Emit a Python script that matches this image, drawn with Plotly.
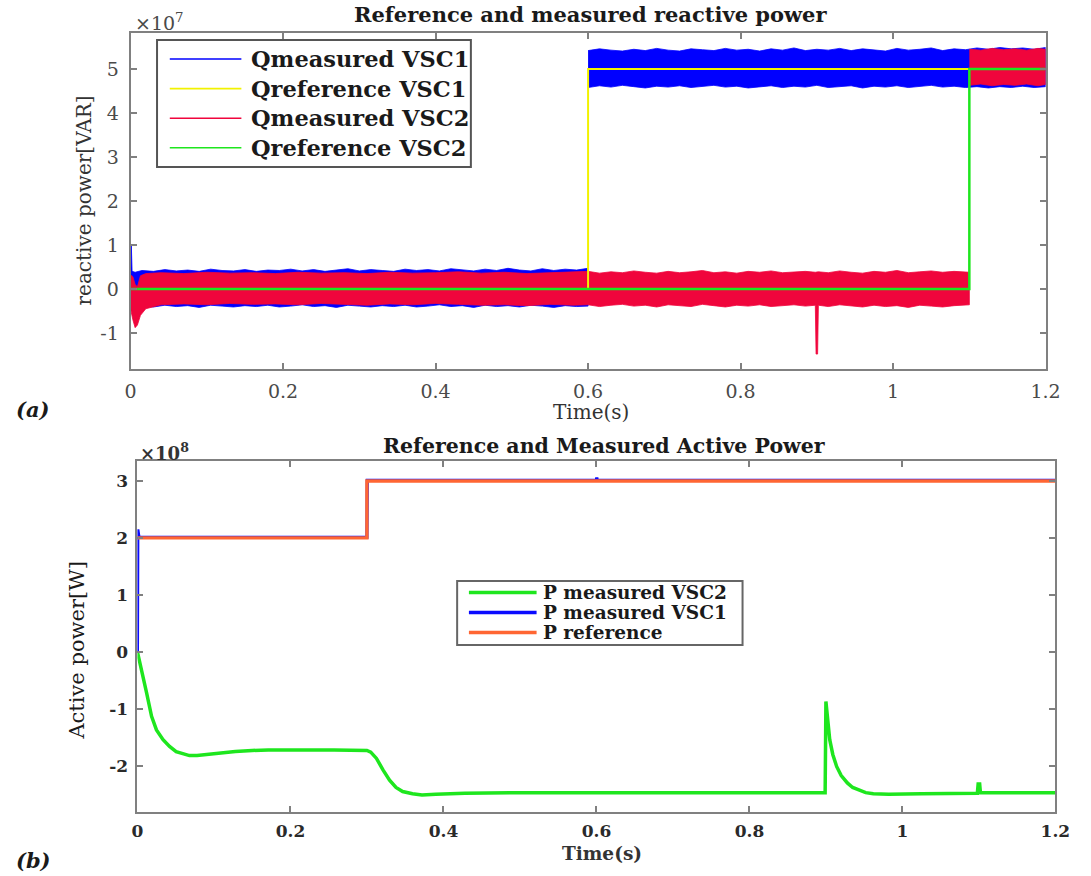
import plotly.graph_objects as go

W, H = 1091, 876


def fx(p):
    return p / W


def fy(p):
    return 1 - p / H


SERIF = "DejaVu Serif"
AXIS_GRAY = "#808080"

# ---------------- Reactive power (values in 1e7 VAR) ----------------
# Qmeasured VSC1: envelope of the oscillating measurement, 0 - 0.6 s
q1a_t = [0.000, 0.001, 0.002, 0.006, 0.015, 0.03, 0.045, 0.06, 0.075, 0.09, 0.105, 0.12, 0.135,
         0.15, 0.165, 0.18, 0.195, 0.21, 0.225, 0.24, 0.255, 0.27, 0.285, 0.30, 0.315, 0.33,
         0.345, 0.36, 0.375, 0.39, 0.405, 0.42, 0.435, 0.45, 0.465, 0.48, 0.495, 0.51, 0.525,
         0.54, 0.555, 0.57, 0.585, 0.60]
q1a_hi = [0.30, 1.00, 0.40, 0.38, 0.42, 0.40, 0.44, 0.41, 0.43, 0.40, 0.45, 0.42, 0.41,
          0.44, 0.40, 0.43, 0.42, 0.45, 0.41, 0.44, 0.40, 0.43, 0.46, 0.41, 0.44, 0.42,
          0.40, 0.45, 0.42, 0.44, 0.41, 0.46, 0.43, 0.41, 0.45, 0.42, 0.47, 0.43, 0.41,
          0.46, 0.42, 0.45, 0.43, 0.47]
q1a_lo = [-0.48, -0.45, -0.40, -0.40, -0.39, -0.41, -0.37, -0.40, -0.38, -0.42, -0.37, -0.39, -0.41,
          -0.38, -0.40, -0.37, -0.41, -0.39, -0.36, -0.40, -0.38, -0.42, -0.37, -0.39, -0.41, -0.38,
          -0.40, -0.37, -0.41, -0.39, -0.36, -0.40, -0.38, -0.42, -0.37, -0.40, -0.38, -0.41, -0.37,
          -0.39, -0.42, -0.38, -0.40, -0.39]
# Qmeasured VSC1 after the 0.6 s step
q1b_t = [0.60, 0.615, 0.63, 0.645, 0.66, 0.675, 0.69, 0.705, 0.72, 0.735, 0.75, 0.765, 0.78,
         0.795, 0.81, 0.825, 0.84, 0.855, 0.87, 0.885, 0.90, 0.915, 0.93, 0.945, 0.96, 0.975,
         0.99, 1.005, 1.02, 1.035, 1.05, 1.065, 1.08, 1.095, 1.11, 1.125, 1.14, 1.155, 1.17,
         1.185, 1.20]
q1b_hi = [5.42, 5.46, 5.43, 5.41, 5.45, 5.42, 5.47, 5.43, 5.41, 5.46, 5.44, 5.42, 5.47,
          5.43, 5.45, 5.41, 5.46, 5.43, 5.48, 5.42, 5.45, 5.43, 5.47, 5.42, 5.46, 5.44,
          5.41, 5.47, 5.43, 5.45, 5.48, 5.42, 5.46, 5.44, 5.48, 5.45, 5.49, 5.46, 5.48,
          5.45, 5.49]
q1b_lo = [4.58, 4.62, 4.59, 4.63, 4.60, 4.57, 4.61, 4.59, 4.62, 4.58, 4.60, 4.63, 4.59,
          4.61, 4.57, 4.60, 4.62, 4.58, 4.61, 4.59, 4.63, 4.58, 4.60, 4.62, 4.57, 4.61,
          4.59, 4.62, 4.58, 4.60, 4.63, 4.59, 4.61, 4.58, 4.60, 4.57, 4.60, 4.58, 4.61,
          4.58, 4.60]

# Qmeasured VSC2: envelope before the 1.1 s step (with the 0.9 s disturbance)
q2a_t = [0.000, 0.003, 0.006, 0.009, 0.013, 0.02,
         0.04, 0.07, 0.10, 0.13, 0.16, 0.19, 0.22, 0.25, 0.28, 0.31, 0.34, 0.37, 0.40, 0.43,
         0.46, 0.49, 0.52, 0.55, 0.58,
         0.60, 0.615, 0.63, 0.645, 0.66, 0.675, 0.69, 0.705, 0.72, 0.735, 0.75, 0.765, 0.78,
         0.795, 0.81, 0.825, 0.84, 0.855, 0.87, 0.885,
         0.898, 0.899, 0.901, 0.902,
         0.915, 0.93, 0.945, 0.96, 0.975, 0.99, 1.005, 1.02, 1.035, 1.05, 1.065, 1.08, 1.10]
q2a_hi = [0.32, 0.28, 0.10, 0.05, 0.30, 0.35,
          0.37, 0.35, 0.38, 0.36, 0.37, 0.35, 0.38, 0.36, 0.37, 0.35, 0.38, 0.36, 0.37, 0.39,
          0.36, 0.38, 0.35, 0.37, 0.38,
          0.40, 0.36, 0.39, 0.37, 0.41, 0.38, 0.36, 0.40, 0.37, 0.39, 0.42, 0.37, 0.39,
          0.36, 0.40, 0.38, 0.41, 0.37, 0.39, 0.40,
          0.38, 0.38, 0.38, 0.39,
          0.37, 0.41, 0.38, 0.36, 0.40, 0.38, 0.42, 0.37, 0.39, 0.41, 0.38, 0.40, 0.38]
q2a_lo = [-0.45, -0.70, -0.88, -0.82, -0.60, -0.45,
          -0.36, -0.34, -0.36, -0.33, -0.35, -0.34, -0.36, -0.33, -0.35, -0.37, -0.34, -0.36, -0.33, -0.35,
          -0.37, -0.36, -0.38, -0.35, -0.37,
          -0.36, -0.40, -0.37, -0.35, -0.39, -0.37, -0.41, -0.36, -0.38, -0.40, -0.35, -0.38, -0.41,
          -0.37, -0.39, -0.36, -0.40, -0.38, -0.36, -0.39,
          -0.37, -1.48, -1.48, -0.37,
          -0.40, -0.36, -0.39, -0.41, -0.37, -0.40, -0.38, -0.42, -0.37, -0.39, -0.41, -0.38, -0.36]
# Qmeasured VSC2 after the 1.1 s step
q2b_t = [1.10, 1.115, 1.13, 1.145, 1.16, 1.175, 1.19, 1.20]
q2b_hi = [5.45, 5.43, 5.47, 5.44, 5.46, 5.43, 5.47, 5.45]
q2b_lo = [4.63, 4.66, 4.62, 4.65, 4.63, 4.66, 4.62, 4.65]

# Reactive power references (step profiles)
qref1_t = [0.0, 0.6, 1.2]
qref1 = [0.0, 5.0, 5.0]
qref2_t = [0.0, 1.1, 1.2]
qref2 = [0.0, 5.0, 5.0]

q_ticks = [-1, 0, 1, 2, 3, 4, 5]
t_ticks = [0, 0.2, 0.4, 0.6, 0.8, 1.0, 1.2]
t_labels = ["0", "0.2", "0.4", "0.6", "0.8", "1", "1.2"]

# ---------------- Active power (values in 1e8 W) ----------------
pref_t = [0.0, 0.3, 1.2]
pref = [2.0, 3.0, 3.0]

p1_t = [0.0, 0.0005, 0.002, 0.3, 0.3005, 0.6, 0.6005, 0.601, 1.2]
p1 = [0.0, 2.15, 2.012, 2.012, 3.012, 3.012, 3.06, 3.012, 3.012]

p2_t = [0.0, 0.0056, 0.012, 0.0185, 0.0249, 0.0335, 0.042, 0.0506, 0.059, 0.068, 0.078,
        0.09, 0.107, 0.128, 0.15, 0.171, 0.257, 0.300, 0.305, 0.3125, 0.321, 0.3296, 0.338,
        0.3467, 0.3596, 0.372, 0.39, 0.428, 0.5, 0.6, 0.7, 0.8, 0.899,
        0.900, 0.902, 0.905, 0.909, 0.914, 0.920, 0.928, 0.935, 0.943, 0.952, 0.962, 0.982,
        1.025, 1.098, 1.099, 1.101, 1.102, 1.2]
p2 = [0.0, -0.31, -0.72, -1.13, -1.37, -1.54, -1.66, -1.75, -1.79, -1.82, -1.82,
      -1.80, -1.78, -1.75, -1.73, -1.72, -1.72, -1.73, -1.76, -1.87, -2.07, -2.25, -2.38,
      -2.45, -2.49, -2.51, -2.50, -2.48, -2.47, -2.47, -2.47, -2.47, -2.47,
      -0.87, -1.20, -1.54, -1.80, -2.01, -2.17, -2.30, -2.38, -2.43, -2.47, -2.49, -2.50,
      -2.49, -2.48, -2.32, -2.32, -2.47, -2.47]

p_ticks = [-2, -1, 0, 1, 2, 3]

# ---------------- colours ----------------
C_Q1 = "#0000ff"
C_QREF1 = "#f2f200"
C_Q2 = "#f0053c"
C_QREF2 = "#1ee61e"
C_P2 = "#1ee61e"
C_P1 = "#0a0aff"
C_PREF = "#ff6633"


def band(t, hi, lo):
    return t + t[::-1], hi + lo[::-1]


fig = go.Figure()

# ---- reactive power panel ----
for (t, hi, lo), col in [((q1a_t, q1a_hi, q1a_lo), C_Q1), ((q1b_t, q1b_hi, q1b_lo), C_Q1),
                         ((q2a_t, q2a_hi, q2a_lo), C_Q2), ((q2b_t, q2b_hi, q2b_lo), C_Q2)]:
    bx, by = band(t, hi, lo)
    fig.add_trace(go.Scatter(x=bx, y=by, mode="lines", fill="toself", fillcolor=col,
                             line=dict(color=col, width=0.8), xaxis="x", yaxis="y",
                             showlegend=False, hoverinfo="skip"))

fig.add_trace(go.Scatter(x=qref1_t, y=qref1, mode="lines", line=dict(color=C_QREF1, width=2, shape="hv"),
                         xaxis="x", yaxis="y", showlegend=False))
fig.add_trace(go.Scatter(x=qref2_t, y=qref2, mode="lines", line=dict(color=C_QREF2, width=2.5, shape="hv"),
                         xaxis="x", yaxis="y", showlegend=False))

# ---- active power panel ----
fig.add_trace(go.Scatter(x=p1_t, y=p1, mode="lines", line=dict(color=C_P1, width=3.2),
                         xaxis="x2", yaxis="y2", showlegend=False))
fig.add_trace(go.Scatter(x=pref_t, y=pref, mode="lines", line=dict(color=C_PREF, width=3.4, shape="hv"),
                         xaxis="x2", yaxis="y2", showlegend=False))
fig.add_trace(go.Scatter(x=p2_t, y=p2, mode="lines", line=dict(color=C_P2, width=3.5),
                         xaxis="x2", yaxis="y2", showlegend=False))

axis_common = dict(showline=True, linecolor=AXIS_GRAY, linewidth=2, mirror="ticks",
                   ticks="inside", ticklen=6, tickcolor=AXIS_GRAY, tickwidth=1.5,
                   showgrid=False, zeroline=False)

top_tick_font = dict(family=SERIF, size=19, color="#4a4a4a")
bot_tick_font = dict(family=SERIF, size=17, color="#2a2a2a", weight="bold")

fig.update_layout(
    width=W, height=H, margin=dict(l=0, r=0, t=0, b=0),
    paper_bgcolor="white", plot_bgcolor="white", showlegend=False,
    xaxis=dict(domain=[fx(127), fx(1060)], range=[0, 1.2], anchor="y",
               tickvals=t_ticks, ticktext=t_labels, tickfont=top_tick_font,
               ticklabelstandoff=4, **axis_common),
    yaxis=dict(domain=[fy(369), fy(33)], range=[-1.82, 5.82], anchor="x",
               tickvals=q_ticks, ticktext=[str(v) for v in q_ticks], tickfont=top_tick_font,
               ticklabelstandoff=6, **axis_common),
    xaxis2=dict(domain=[fx(134), fx(1070)], range=[0, 1.2], anchor="y2",
                tickvals=t_ticks, ticktext=t_labels, tickfont=bot_tick_font,
                ticklabelstandoff=3, **axis_common),
    yaxis2=dict(domain=[fy(812), fy(461)], range=[-2.81, 3.35], anchor="x2",
                tickvals=p_ticks, ticktext=[str(v) for v in p_ticks], tickfont=bot_tick_font,
                ticklabelstandoff=4, **axis_common),
)

ann = []
shapes = []


def text(x, y, s, size, bold=False, italic=False, color="#1a1a1a", xanchor="center", angle=0):
    ann.append(dict(x=fx(x), y=fy(y), xref="paper", yref="paper", text=s, showarrow=False,
                    xanchor=xanchor, yanchor="middle", textangle=angle,
                    font=dict(family=SERIF, size=size, color=color,
                              weight="bold" if bold else "normal",
                              style="italic" if italic else "normal")))


# titles and axis labels
text(596, 15, "Reference and measured reactive power", 21, bold=True)
text(130, 22, "×10<sup>7</sup>", 19, color="#4a4a4a", xanchor="left")
text(80, 200, "reactive power[VAR]", 20, color="#333333", angle=-90)
text(596, 412, "Time(s)", 20, color="#333333")
text(8, 410, "(a)", 21, bold=True, italic=True, xanchor="left")

text(610, 446, "Reference and Measured Active Power", 20.5, bold=True)
text(135, 452, "×10<sup>8</sup>", 18, bold=True, color="#333333", xanchor="left")
text(72, 650, "Active power[W]", 21, color="#1a1a1a", angle=-90)
text(608, 853, "Time(s)", 18.5, bold=True, color="#333333")
text(8, 860, "(b)", 21, bold=True, italic=True, xanchor="left")

# legend of the reactive power panel
shapes.append(dict(type="rect", xref="paper", yref="paper", x0=fx(154), x1=fx(474), y0=fy(167), y1=fy(40),
                   line=dict(color="#555555", width=2), fillcolor="white", layer="above"))
for i, (name, col) in enumerate([("Qmeasured VSC1", C_Q1), ("Qreference VSC1", C_QREF1),
                                 ("Qmeasured VSC2", C_Q2), ("Qreference VSC2", C_QREF2)]):
    yy = 59 + i * 29.6
    shapes.append(dict(type="line", xref="paper", yref="paper", x0=fx(167), x1=fx(240), y0=fy(yy), y1=fy(yy),
                       line=dict(color=col, width=1.6), layer="above"))
    text(248, yy, name, 22.5, bold=True, xanchor="left")

# legend of the active power panel
shapes.append(dict(type="rect", xref="paper", yref="paper", x0=fx(460), x1=fx(751), y0=fy(645), y1=fy(581),
                   line=dict(color="#666666", width=2), fillcolor="white", layer="above"))
for i, (name, col) in enumerate([("P measured VSC2", C_P2), ("P measured VSC1", C_P1),
                                 ("P reference", C_PREF)]):
    yy = 592.5 + i * 20
    shapes.append(dict(type="line", xref="paper", yref="paper", x0=fx(472), x1=fx(541), y0=fy(yy), y1=fy(yy),
                       line=dict(color=col, width=3.5), layer="above"))
    text(546, yy, name, 18.5, bold=True, xanchor="left")

fig.update_layout(annotations=ann, shapes=shapes)
fig.write_html("out.html")
